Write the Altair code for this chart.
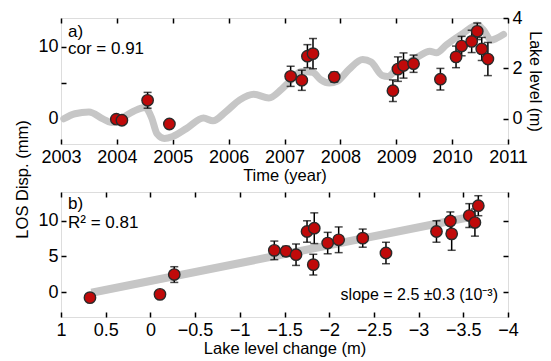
import altair as alt
import pandas as pd

# ---------------- data ----------------
# Panel a: LOS displacement time series (mm) with 1-sigma errors
ts_year = [2003.99, 2004.09, 2004.55, 2004.94, 2007.11, 2007.31, 2007.41, 2007.51, 2007.89,
           2008.94, 2009.03, 2009.13, 2009.31, 2009.79, 2010.07, 2010.17, 2010.35, 2010.45,
           2010.53, 2010.64]
ts_disp = [-0.05, -0.2, 2.57, -0.72, 5.9, 5.35, 8.7, 9.05, 5.8,
           3.9, 6.9, 7.4, 7.65, 5.5, 8.6, 10.1, 10.75, 12.15,
           9.7, 8.3]
ts_err = [0, 0, 1.1, 0, 1.4, 1.4, 1.6, 2.1, 0.7,
          1.5, 1.7, 1.75, 1.2, 1.5, 1.5, 1.35, 1.55, 1.15,
          1.6, 2.3]

# Panel a: lake level (m), right axis
lake_year = [2003.05, 2003.25, 2003.5, 2003.75, 2003.9, 2004.1, 2004.3, 2004.5, 2004.62,
             2004.72, 2004.85, 2005.0, 2005.25, 2005.55, 2005.72, 2005.95, 2006.2, 2006.45,
             2006.72, 2006.95, 2007.1, 2007.3, 2007.5, 2007.65, 2007.8, 2007.95, 2008.15,
             2008.4, 2008.55, 2008.75, 2008.85, 2009.0, 2009.2, 2009.4, 2009.6, 2009.72,
             2009.9, 2010.2, 2010.45, 2010.55, 2010.7, 2010.8, 2010.92]
lake_level = [0.0, 0.2, 0.27, 0.0, -0.15, 0.05, 0.3, 0.45, 0.05,
              -0.6, -0.78, -0.7, -0.38, 0.03, -0.08, 0.28, 0.75, 0.97,
              0.83, 1.18, 1.5, 1.88, 1.85, 1.55, 1.42, 1.5, 1.95,
              2.35, 2.25, 1.72, 1.68, 1.95, 2.2, 2.48, 2.68, 2.62,
              2.94, 3.4, 3.72, 3.55, 3.12, 3.2, 3.35]

# Panel b: LOS displacement vs lake level change
chg_b = [0.676, -0.107, -0.267, -1.386, -1.517, -1.629, -1.752, -1.822, -1.833, -1.983,
         -2.106, -2.375, -2.635, -3.2, -3.355, -3.37, -3.567, -3.63, -3.668]
disp_b = [-0.79, -0.33, 2.44, 5.83, 5.7, 5.22, 8.47, 3.83, 8.93, 6.85,
          7.31, 7.54, 5.46, 8.47, 9.94, 8.14, 10.7, 9.72, 12.08]
err_b = [0, 0, 1.1, 1.3, 0.7, 1.5, 1.5, 1.45, 2.15, 1.5,
         1.8, 1.27, 1.5, 1.5, 1.27, 2.3, 1.67, 1.9, 1.4]

# regression line
reg_slope = -2.5
reg_intercept = 1.55
reg_x = [0.66, -3.62]

# ticks
year_ticks = list(range(2003, 2012))
chg_ticks = [1, 0.5, 0, -0.5, -1, -1.5, -2, -2.5, -3, -3.5, -4]
mm_ticks = [0, 5, 10]
lake_ticks = [0, 2, 4]

# ---------------- style ----------------
W, HA, HB = 447, 126, 125
FONT = "Liberation Sans"
LFS = 18      # tick labels
TFS = 16.5    # axis titles
AFS = 17      # annotations
FILL = "#c00a0a"
EDGE = "#2a2a2a"
GRAY = "#c6c6c6"

ts_df = pd.DataFrame({"year": ts_year, "disp": ts_disp, "err": ts_err})
ts_df["lo"] = ts_df["disp"] - ts_df["err"]
ts_df["hi"] = ts_df["disp"] + ts_df["err"]
lake_df = pd.DataFrame({"year": lake_year, "level": lake_level})
b_df = pd.DataFrame({"chg": chg_b, "disp": disp_b, "err": err_b})
b_df["lo"] = b_df["disp"] - b_df["err"]
b_df["hi"] = b_df["disp"] + b_df["err"]
reg_df = pd.DataFrame({"chg": reg_x, "disp": [reg_intercept + reg_slope * v for v in reg_x]})

time_scale = alt.Scale(domain=[2003, 2011], nice=False, zero=False)
mm_scale = alt.Scale(domain=[-3.5, 14], nice=False, zero=False)
lake_scale = alt.Scale(domain=[-1, 4], nice=False, zero=False)
chg_scale = alt.Scale(domain=[-4, 1], nice=False, zero=False, reverse=True)


def label_axis(orient, values, **kw):
    opts = dict(orient=orient, values=values, ticks=False, tickSize=0, domain=False,
                grid=False, labelOverlap=False, labelFlush=False, labelFont=FONT,
                labelFontSize=LFS, labelColor="black", titleFont=FONT, titleFontSize=TFS,
                titleColor="black", titleFontWeight="normal")
    opts.update(kw)
    return alt.Axis(**opts)


def inward(orient, values, offset):
    return alt.Axis(orient=orient, values=values, labels=False, domain=False, grid=False,
                    ticks=True, tickSize=5, tickWidth=1.5, tickColor="black",
                    offset=offset, title=None)


def note(text, x, y, align="left", size=AFS):
    return alt.Chart(pd.DataFrame({"t": [text]})).mark_text(
        font=FONT, fontSize=size, align=align, baseline="alphabetic", color="black"
    ).encode(text="t:N", x=alt.value(x), y=alt.value(y))


# ---------------- panel a ----------------
rule_a = alt.Chart(ts_df).mark_rule(color="black", strokeWidth=1.5).encode(
    x=alt.X("year:Q", scale=time_scale,
            axis=label_axis("bottom", year_ticks, format="d", labelPadding=4,
                            title="Time (year)", titleY=31, titleBaseline="middle")),
    y=alt.Y("lo:Q", scale=mm_scale,
            axis=label_axis("left", mm_ticks, labelPadding=3, title=None,
                            labelExpr="datum.value == 5 ? '' : datum.label")),
    y2="hi:Q",
)
caplo_a = alt.Chart(ts_df).mark_tick(orient="horizontal", size=8, thickness=1.5, color="black").encode(
    x=alt.X("year:Q", scale=time_scale, axis=inward("top", year_ticks, -HA)),
    y=alt.Y("lo:Q", scale=mm_scale, axis=inward("right", mm_ticks, -W)),
)
caphi_a = alt.Chart(ts_df).mark_tick(orient="horizontal", size=8, thickness=1.5, color="black").encode(
    x=alt.X("year:Q", scale=time_scale, axis=inward("bottom", year_ticks, -HA)),
    y=alt.Y("hi:Q", scale=mm_scale, axis=None),
)
pts_a = alt.Chart(ts_df).mark_circle(size=130, color=FILL, stroke=EDGE, strokeWidth=1.4, opacity=1).encode(
    x=alt.X("year:Q", scale=time_scale, axis=None),
    y=alt.Y("disp:Q", scale=mm_scale, axis=None),
)
mm_layer = alt.layer(
    rule_a, caplo_a, caphi_a, pts_a,
    note("a)", 7, 19), note("cor = 0.91", 7, 36),
).resolve_axis(x="independent", y="independent")

lake_line = alt.Chart(lake_df).mark_line(
    color=GRAY, strokeWidth=7, interpolate="monotone", strokeCap="round", strokeJoin="round"
).encode(
    x=alt.X("year:Q", scale=time_scale, axis=None),
    y=alt.Y("level:Q", scale=lake_scale,
            axis=label_axis("right", lake_ticks, labelPadding=4, title="Lake level (m)",
                            titleAngle=90, titleX=26, titleY=63, titleBaseline="middle",
                            titleAlign="center", titleFontSize=16)),
)
lake_tk = alt.Chart(lake_df).mark_line(strokeOpacity=0).encode(
    x=alt.X("year:Q", scale=time_scale, axis=None),
    y=alt.Y("level:Q", scale=lake_scale, axis=inward("left", lake_ticks, -W)),
)
lake_layer = alt.layer(lake_line, lake_tk).resolve_axis(y="independent")

panel_a = alt.layer(lake_layer, mm_layer).resolve_scale(y="independent").resolve_axis(
    x="independent", y="independent").properties(width=W, height=HA)

# ---------------- panel b ----------------
reg_line = alt.Chart(reg_df).mark_line(color=GRAY, strokeWidth=8, strokeCap="butt").encode(
    x=alt.X("chg:Q", scale=chg_scale,
            axis=label_axis("bottom", chg_ticks, format="~g", labelPadding=4,
                            title="Lake level change (m)", titleY=31, titleBaseline="middle")),
    y=alt.Y("disp:Q", scale=mm_scale,
            axis=label_axis("left", mm_ticks, labelPadding=3, title="LOS Disp. (mm)",
                            titleAngle=270, titleX=-39, titleY=-13, titleBaseline="middle",
                            titleAlign="center")),
)
rule_b = alt.Chart(b_df).mark_rule(color="black", strokeWidth=1.5).encode(
    x=alt.X("chg:Q", scale=chg_scale, axis=inward("top", chg_ticks, -HB)),
    y=alt.Y("lo:Q", scale=mm_scale, axis=inward("right", mm_ticks, -W)),
    y2="hi:Q",
)
caplo_b = alt.Chart(b_df).mark_tick(orient="horizontal", size=8, thickness=1.5, color="black").encode(
    x=alt.X("chg:Q", scale=chg_scale, axis=inward("bottom", chg_ticks, -HB)),
    y=alt.Y("lo:Q", scale=mm_scale, axis=inward("left", mm_ticks, -W)),
)
caphi_b = alt.Chart(b_df).mark_tick(orient="horizontal", size=8, thickness=1.5, color="black").encode(
    x=alt.X("chg:Q", scale=chg_scale, axis=None),
    y=alt.Y("hi:Q", scale=mm_scale, axis=None),
)
pts_b = alt.Chart(b_df).mark_circle(size=130, color=FILL, stroke=EDGE, strokeWidth=1.4, opacity=1).encode(
    x=alt.X("chg:Q", scale=chg_scale, axis=None),
    y=alt.Y("disp:Q", scale=mm_scale, axis=None),
)
panel_b = alt.layer(
    reg_line, rule_b, caplo_b, caphi_b, pts_b,
    note("b)", 7, 17), note("R\u00b2 = 0.81", 7, 36),
    note("slope = 2.5 \u00b10.3 (10\u207b\u00b3)", 437, 108, align="right", size=16),
).resolve_axis(x="independent", y="independent").properties(width=W, height=HB)

chart = alt.vconcat(panel_a, panel_b, spacing=48, bounds="flush").properties(
    padding={"left": 5, "top": 0, "right": 0, "bottom": 0}
).configure_view(stroke="black", strokeWidth=2).configure(background="white")

chart.save("out.html", embed_options={"renderer": "svg", "actions": False})
